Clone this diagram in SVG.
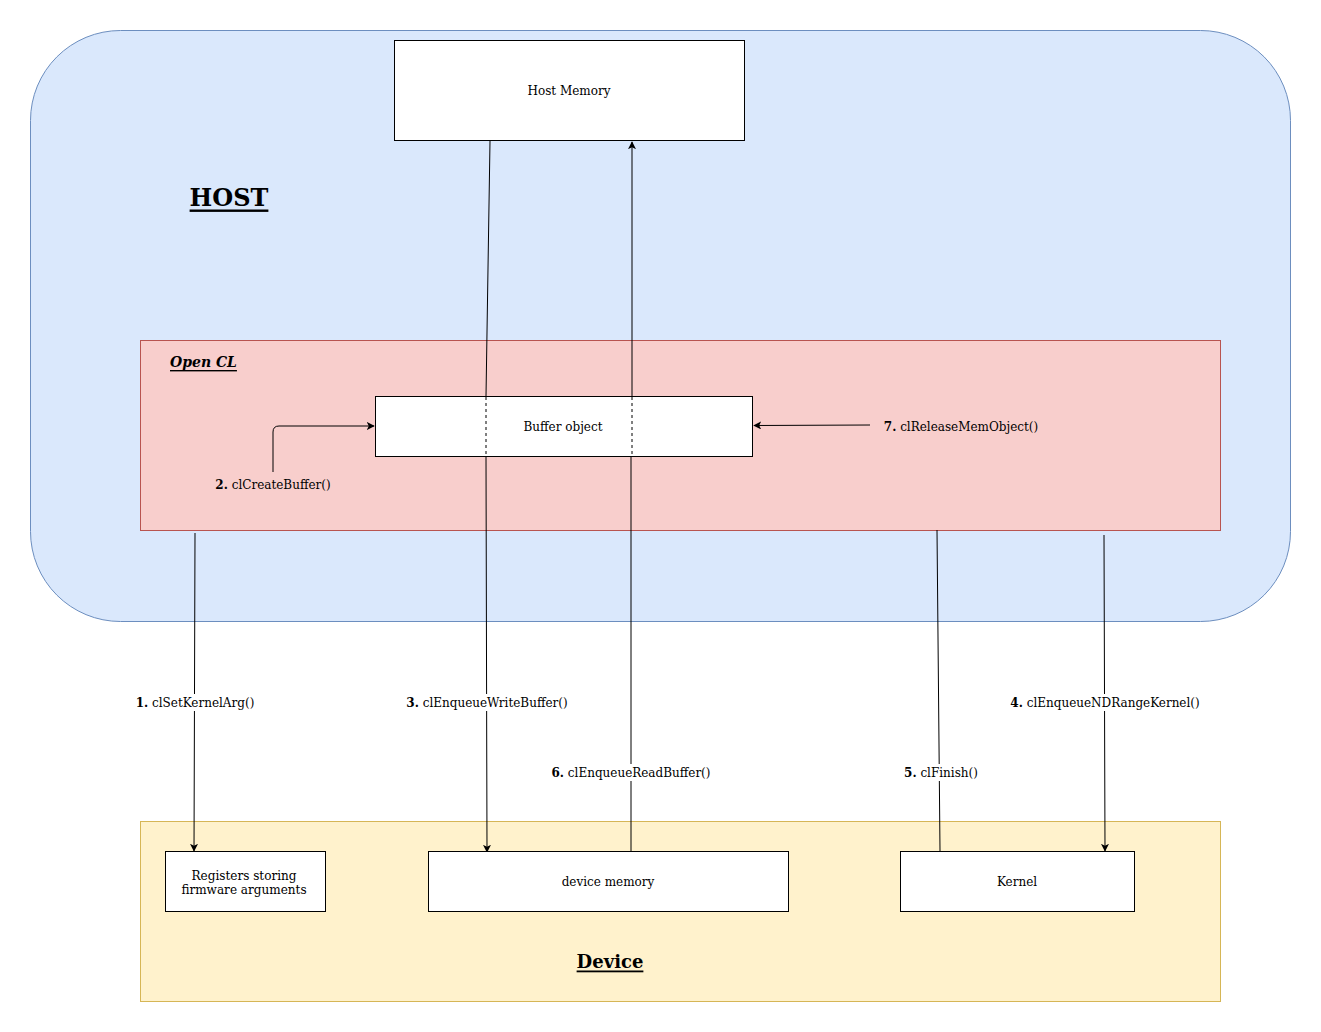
<svg xmlns="http://www.w3.org/2000/svg" width="1321" height="1032" viewBox="0 0 1321 1032">
<style>
text{font-family:"DejaVu Serif","Liberation Serif",serif;font-size:12px;fill:#000}
.box{fill:#fff;stroke:#000;stroke-width:1}
.edge{fill:none;stroke:#000;stroke-width:1}
.lbl{text-anchor:middle;dominant-baseline:central}
.bg{fill:#fff}
</style>
<defs>
<marker id="arr" viewBox="0 0 10 10" refX="9" refY="5" markerWidth="8" markerHeight="8" markerUnits="userSpaceOnUse" orient="auto">
<path d="M0,0 L10,5 L0,10 L2.5,5 Z" fill="#000"/>
</marker>
</defs>
<rect width="1321" height="1032" fill="#fff"/>
<g id="host">
<rect x="30.5" y="30.5" width="1260" height="591" rx="90" fill="#dae8fc" stroke="#6c8ebf"/>
<text x="229" y="197" class="lbl" style="font-size:24px;font-weight:bold;text-decoration:underline">HOST</text>
</g>
<g id="opencl">
<rect x="140.5" y="340.5" width="1080" height="190" fill="#f8cecc" stroke="#b85450"/>
<text x="170" y="362" style="font-size:14px;font-weight:bold;font-style:italic;text-decoration:underline;dominant-baseline:central">Open CL</text>
</g>
<g id="device">
<rect x="140.5" y="821.5" width="1080" height="180" fill="#fff2cc" stroke="#d6b656"/>
<text x="610" y="961" class="lbl" style="font-size:18px;font-weight:bold;text-decoration:underline">Device</text>
</g>
<g id="connectors">
<path class="edge" d="M195,533 L194,851" marker-end="url(#arr)"/>
<path class="edge" d="M273,472 L273,432 Q273,426 279,426 L374,426" marker-end="url(#arr)"/>
<path class="edge" d="M490,141 L486,396 M486,456 L487,852" marker-end="url(#arr)"/>
<path class="edge" d="M631,854 L631,456 M632,396 L632,142" marker-end="url(#arr)"/>
<path class="edge" d="M937,530 L940,851"/>
<path class="edge" d="M1104,535 L1105,851" marker-end="url(#arr)"/>
<path class="edge" d="M870,425 L754,425.5" marker-end="url(#arr)"/>
</g>
<g id="host-memory">
<rect class="box" x="394.5" y="40.5" width="350" height="100"/>
<text x="569" y="91" class="lbl">Host Memory</text>
</g>
<g id="buffer-object">
<rect class="box" x="375.5" y="396.5" width="377" height="60"/>
<text x="563" y="427" class="lbl">Buffer object</text>
<path class="edge" d="M486,397 L486,456 M632,397 L632,456" stroke-dasharray="3 3"/>
</g>
<g id="registers">
<rect class="box" x="165.5" y="851.5" width="160" height="60"/>
<text x="244" y="875" class="lbl" style="font-stretch:condensed;font-size:13.4px">Registers storing</text>
<text x="244" y="889" class="lbl" style="font-stretch:condensed;font-size:13.4px">firmware arguments</text>
</g>
<g id="device-memory">
<rect class="box" x="428.5" y="851.5" width="360" height="60"/>
<text x="608" y="882" class="lbl">device memory</text>
</g>
<g id="kernel">
<rect class="box" x="900.5" y="851.5" width="234" height="60"/>
<text x="1017" y="882" class="lbl">Kernel</text>
</g>
<g id="labels">
<rect class="bg" x="133" y="694" width="124" height="17"/>
<text x="195" y="703" class="lbl"><tspan font-weight="bold">1.</tspan> clSetKernelArg()</text>
<text x="273" y="485" class="lbl"><tspan font-weight="bold">2.</tspan> clCreateBuffer()</text>
<rect class="bg" x="403" y="694" width="168" height="17"/>
<text x="487" y="703" class="lbl"><tspan font-weight="bold">3.</tspan> clEnqueueWriteBuffer()</text>
<rect class="bg" x="1007" y="694" width="197" height="17"/>
<text x="1105" y="703" class="lbl"><tspan font-weight="bold">4.</tspan> clEnqueueNDRangeKernel()</text>
<rect class="bg" x="902" y="764" width="78" height="17"/>
<text x="941" y="773" class="lbl"><tspan font-weight="bold">5.</tspan> clFinish()</text>
<rect class="bg" x="548" y="764" width="166" height="17"/>
<text x="631" y="773" class="lbl"><tspan font-weight="bold">6.</tspan> clEnqueueReadBuffer()</text>
<text x="961" y="427" class="lbl"><tspan font-weight="bold">7.</tspan> clReleaseMemObject()</text>
</g>
</svg>
